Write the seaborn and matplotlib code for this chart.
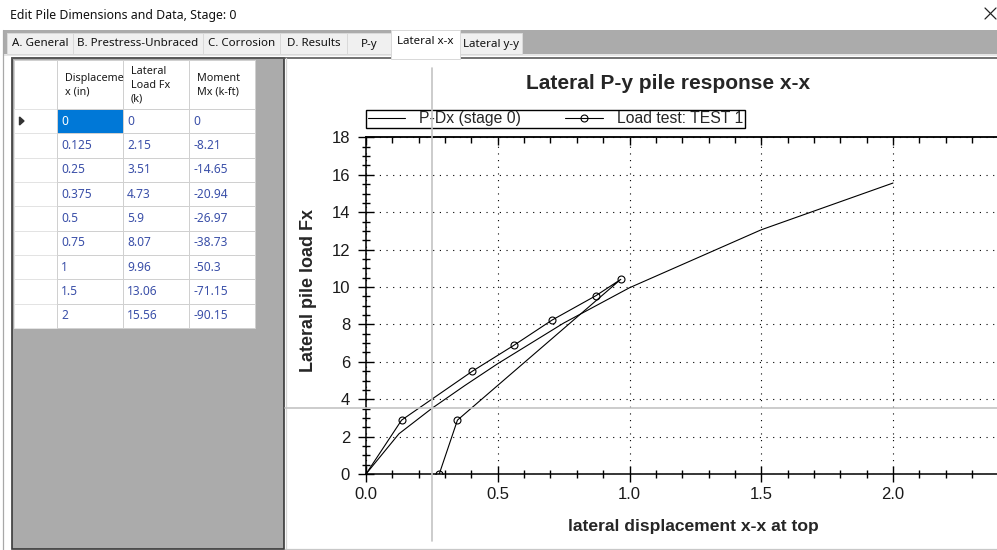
import numpy as np
import pandas as pd
import matplotlib
matplotlib.use("Agg")
import matplotlib.pyplot as plt
import seaborn as sns
from matplotlib.patches import Rectangle, Polygon
from matplotlib.ticker import MultipleLocator

# P-Dx table (stage 0)
disp_in = [0, 0.125, 0.25, 0.375, 0.5, 0.75, 1, 1.5, 2]
load_fx = [0, 2.15, 3.51, 4.73, 5.9, 8.07, 9.96, 13.06, 15.56]
moment_mx = [0, -8.21, -14.65, -20.94, -26.97, -38.73, -50.3, -71.15, -90.15]

# load test TEST 1 (loading, then unloading)
test_disp = [0, 0.135, 0.404, 0.561, 0.706, 0.873, 0.967, 0.347, 0.278]
test_load = [0, 2.88, 5.5, 6.88, 8.23, 9.54, 10.41, 2.88, 0]

tab_names = ["A. General", "B. Prestress-Unbraced", "C. Corrosion", "D. Results",
             "P-y", "Lateral x-x", "Lateral y-y"]
active_tab = "Lateral x-x"
col_headers = [["Displaceme", "x (in)"], ["Lateral", "Load Fx", "(k)"], ["Moment", "Mx (k-ft)"]]
cursor_row = 2

x_ticks = [0.0, 0.5, 1.0, 1.5, 2.0]
y_ticks = list(range(0, 19, 2))

W, H = 997, 550
sns.set_style("white")
plt.rcParams["font.family"] = ["Liberation Sans", "DejaVu Sans"]
ui_font = ["Noto Sans", "DejaVu Sans"]

fig = plt.figure(figsize=(W / 100, H / 100), dpi=100)
ui = fig.add_axes([0, 0, 1, 1])
ui.set_xlim(0, W)
ui.set_ylim(H, 0)
ui.axis("off")


def box(x0, y0, x1, y1, fc, ec="none", lw=0.72, z=1):
    ui.add_patch(Rectangle((x0, y0), x1 - x0, y1 - y0, facecolor=fc,
                           edgecolor=ec, linewidth=lw, zorder=z))


# window title bar
box(0, 0, W, 30, "white")
ui.text(10, 15, "Edit Pile Dimensions and Data, Stage: 0", fontsize=8.9,
        family=ui_font, va="center", color="#111111")
ui.plot([985, 996], [8, 19], color="#222222", lw=0.9)
ui.plot([985, 996], [19, 8], color="#222222", lw=0.9)

# tab strip
box(3, 30, W, 54, "#ABABAB")
box(3, 53.5, W, 56, "#E6E6E6")
tab_edges = [7, 73, 203, 280, 347, 391, 460, 522]
for i, name in enumerate(tab_names):
    x0, x1 = tab_edges[i], tab_edges[i + 1]
    if name == active_tab:
        box(x0, 30, x1, 59, "white", ec="#D9D9D9", z=3)
        ui.text((x0 + x1) / 2, 42, name, fontsize=8.3, family=ui_font,
                ha="center", va="center", zorder=4, color="#111111")
    else:
        box(x0, 33, x1, 54, "#F0F0F0", ec="#D9D9D9", z=2)
        ui.text((x0 + x1) / 2, 44, name, fontsize=8.3, family=ui_font,
                ha="center", va="center", zorder=4, color="#111111")
ui.plot([12, W], [57.5, 57.5], color="#5A5A5A", lw=1.2, zorder=2)
ui.plot([3, 3], [30, H], color="#A8A8A8", lw=0.9)

# left grey panel + chart panel
box(12, 58, 284, 549, "#ABABAB", ec="#3A3A3A", lw=1.2)
box(285, 58.5, W, 549, "white")
ui.plot([286, 286], [58, 549], color="#D5D5D5", lw=0.9)
ui.plot([285, W], [549, 549], color="#C8C8C8", lw=0.9)

# data grid
col_x = [14, 57, 123, 189, 255]
head_top, head_bot, row_h = 59.5, 109, 24.33
box(col_x[0], head_top, col_x[-1], head_bot, "white", ec="#D0D0D0")
for c in range(1, 4):
    box(col_x[c], head_top, col_x[c + 1], head_bot, "white", ec="#D0D0D0")
    lines = col_headers[c - 1]
    y0 = 85.5 - (len(lines) - 1) * 6.8
    clip = Rectangle((col_x[c], head_top), col_x[c + 1] - col_x[c] - 1,
                     head_bot - head_top, transform=ui.transData)
    for k, s in enumerate(lines):
        t = ui.text(col_x[c] + 8, y0 + k * 13.6, s, fontsize=7.8, family=ui_font,
                    va="center", color="#1A1A1A", zorder=3)
        t.set_clip_path(clip)

table = pd.DataFrame({"disp": disp_in, "load": load_fx, "moment": moment_mx})
for r, row in enumerate(table.itertuples(index=False)):
    y0 = head_bot + r * row_h
    box(col_x[0], y0, col_x[1], y0 + row_h, "white", ec="#E3E3E3")
    for c, v in enumerate(row, start=1):
        sel = (r == 0 and c == 1)
        box(col_x[c], y0, col_x[c + 1], y0 + row_h,
            "#0078D7" if sel else "white", ec="#D0D0D0")
        ui.text(col_x[c] + 4, y0 + row_h / 2, f"{v:g}", fontsize=8.6, family=ui_font,
                va="center", color="white" if sel else "#3A4FA8", zorder=3)
ui.add_patch(Polygon([(19.5, head_bot + 8), (19.5, head_bot + 16), (24, head_bot + 12)],
                     closed=True, color="#333333", zorder=3))

# chart
x0_px, y0_px, ppx, ppy = 366, 474, 263.5, 18.7
ax = fig.add_axes([x0_px / W, (H - y0_px) / H, (W - x0_px) / W, 18 * ppy / H])
ax.set_facecolor("none")

sns.lineplot(x=disp_in, y=load_fx, sort=False, estimator=None, color="black",
             lw=0.8, ax=ax, label="P-Dx (stage 0)")
sns.lineplot(x=test_disp, y=test_load, sort=False, estimator=None, color="black",
             lw=0.8, marker="o", ms=5, mfc="none", mec="black", mew=0.8,
             markevery=list(range(1, len(test_disp))), ax=ax, label="Load test: TEST 1")

ax.set_xlim(0, (W - x0_px) / ppx)
ax.set_ylim(0, 18)
ax.set_xticks(x_ticks)
ax.set_xticklabels([f"{v:.1f}" for v in x_ticks])
ax.set_yticks(y_ticks)
ax.xaxis.set_minor_locator(MultipleLocator(0.1))
ax.yaxis.set_minor_locator(MultipleLocator(0.5))
ax.tick_params(which="both", bottom=True, left=True, top=False, right=False)
ax.tick_params(which="major", direction="inout", length=11, width=1,
               labelsize=12, labelcolor="#1A1A1A", color="black")
ax.tick_params(which="minor", direction="inout", length=6, width=1, color="black")
ax.tick_params(axis="x", which="major", pad=4)
ax.tick_params(axis="y", which="major", pad=6)
ax.grid(which="major", color="black", linestyle=(0, (1, 5)), lw=0.8)
ax.spines["right"].set_visible(False)
for s in ["left", "bottom", "top"]:
    ax.spines[s].set_color("black")
    ax.spines[s].set_linewidth(1.1)

top = ax.secondary_xaxis("top")
top.set_xticks(x_ticks)
top.xaxis.set_minor_locator(MultipleLocator(0.1))
top.tick_params(which="both", top=True, labeltop=False, color="black")
top.tick_params(which="major", direction="in", length=6, width=1)
top.tick_params(which="minor", direction="in", length=4, width=1)
top.spines["top"].set_linewidth(1.1)

ax_h = 18 * ppy
ax.text((668 - x0_px) / (W - x0_px), (y0_px - 84) / ax_h, "Lateral P-y pile response x-x",
        transform=ax.transAxes, fontsize=15, fontweight="bold", ha="center", va="center")
ax.set_xlabel("lateral displacement x-x at top", fontsize=12.6, fontweight="bold", va="center")
ax.xaxis.set_label_coords((693 - x0_px) / (W - x0_px), (y0_px - 527) / ax_h)
ax.set_ylabel("Lateral pile load Fx", fontsize=13, fontweight="bold", va="center")
ax.yaxis.set_label_coords((308 - x0_px) / (W - x0_px), (y0_px - 291) / ax_h)

leg = ax.legend(loc="lower left", ncol=2, mode="expand",
                bbox_to_anchor=(0, (y0_px - 128) / ax_h, 379 / (W - x0_px), 0.05),
                borderaxespad=0, fontsize=11.3, frameon=True, fancybox=False,
                edgecolor="black", facecolor="white", framealpha=1,
                handlelength=2.4, handletextpad=0.9, borderpad=0.1, numpoints=1)
leg.get_frame().set_linewidth(1.0)

# cursor crosshair on the selected P-Dx point
cx, cy = disp_in[cursor_row], load_fx[cursor_row]
ax.axvline(cx, ymin=(y0_px - 541) / ax_h, ymax=(y0_px - 68) / ax_h, color="#C4C4C4",
           lw=1.2, clip_on=False, zorder=6)
ax.axhline(cy, xmin=(285 - x0_px) / (W - x0_px), xmax=1, color="#C4C4C4",
           lw=1.2, clip_on=False, zorder=6)

fig.savefig("out.png", dpi=100)
